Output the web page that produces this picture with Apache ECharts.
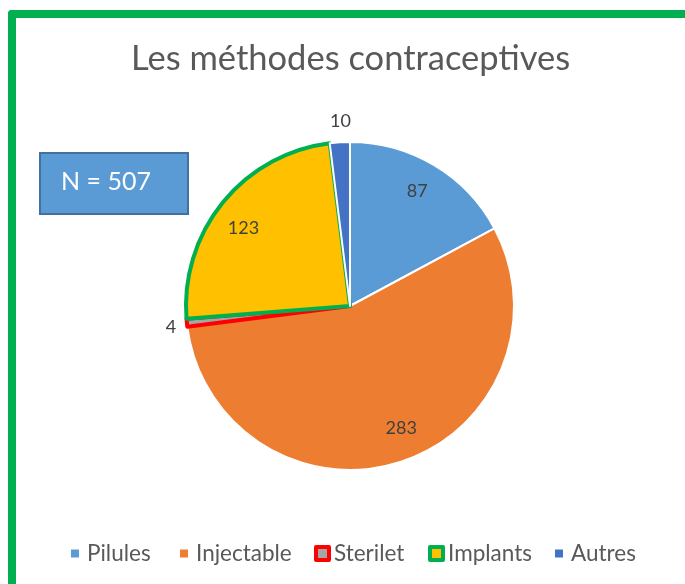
<!DOCTYPE html>
<html>
<head>
<meta charset="utf-8">
<script src="https://cdn.jsdelivr.net/npm/echarts@6/dist/echarts.min.js"></script>
<style>
html,body{margin:0;padding:0;background:#fff;overflow:hidden;width:685px;height:584px;}
#wrap{position:relative;width:685px;height:584px;overflow:hidden;}
#chart{position:absolute;left:0;top:0;width:685px;height:584px;}
#barL{position:absolute;left:8px;top:10px;width:7.5px;height:600px;background:#00B050;border-top-left-radius:4px;pointer-events:none;}
#barT{position:absolute;left:8px;top:10px;width:677px;height:7.5px;background:#00B050;border-top-left-radius:4px;pointer-events:none;}
</style>
</head>
<body>
<div id="wrap"><div id="chart"></div><div id="barL"></div><div id="barT"></div></div>
<script>
const categories = ['Pilules', 'Injectable', 'Sterilet', 'Implants', 'Autres'];
const values = [87, 283, 4, 123, 10];
const colors = ['#5B9BD5', '#ED7D31', '#A5A5A5', '#FFC000', '#4472C4'];
const borderColors = ['#FFFFFF', '#FFFFFF', '#FF0000', '#00B050', '#FFFFFF'];
const borderWidths = [2, 2, 4, 4, 2];
const outsideLabel = [false, false, true, false, true];
const titleText = 'Les méthodes contraceptives';
const totalText = 'N = 507';

// styling / layout helpers (not data)
const labelNudges = [[-2, 1], [10, -6], [6, 2], [-2, 8], [2, 1]];
const legendLefts = [66, 175, 307, 421, 550];

const chart = echarts.init(document.getElementById('chart'));
const FONT = 'Lato';
const center = [350, 306];

const mainData = categories.map((c, i) => ({
  name: c, value: values[i],
  itemStyle: { color: colors[i], borderColor: borderColors[i], borderWidth: borderWidths[i] }
}));
const innerLabelData = categories.map((c, i) => ({
  name: c, value: values[i],
  label: { show: !outsideLabel[i], offset: labelNudges[i] }
}));
const outerLabelData = categories.map((c, i) => ({
  name: c, value: values[i],
  label: { show: outsideLabel[i], offset: labelNudges[i] }
}));

const legends = categories.map((c, i) => {
  const bordered = borderWidths[i] > 2;
  const sz = bordered ? 13 : 8;
  return {
    data: [{
      name: c, icon: 'rect',
      itemStyle: {
        color: colors[i],
        borderColor: bordered ? borderColors[i] : colors[i],
        borderWidth: bordered ? 4 : 0
      }
    }],
    left: legendLefts[i] + (bordered ? 2 : 0), top: 537,
    itemWidth: sz, itemHeight: sz, selectedMode: false,
    textStyle: { fontFamily: FONT, fontSize: 22.5, color: '#595959', padding: [0, 0, 0, bordered ? 0 : 3] }
  };
});

const labelStyle = { position: 'inside', formatter: '{c}', color: '#404040', fontSize: 18, fontFamily: FONT };

chart.setOption({
  backgroundColor: '#ffffff',
  animation: false,
  title: {
    text: titleText, left: 126, top: 36,
    textStyle: { fontFamily: FONT, fontSize: 34.5, fontWeight: 'normal', color: '#595959' }
  },
  legend: legends,
  graphic: [
    { type: 'rect', shape: { x: 40, y: 153, width: 148, height: 61 },
      style: { fill: '#5B9BD5', stroke: '#41719C', lineWidth: 2 } },
    { type: 'text', x: 61, y: 182,
      style: { text: totalText, fill: '#FFFFFF', font: '25px ' + FONT, textVerticalAlign: 'middle' } }
  ],
  series: [
    { type: 'pie', center: center, radius: 164, startAngle: 90, clockwise: true,
      data: mainData, label: { show: false }, labelLine: { show: false }, silent: true },
    { type: 'pie', center: center, radius: [100, 164], startAngle: 90, clockwise: true,
      data: innerLabelData, itemStyle: { color: 'rgba(0,0,0,0)', borderWidth: 0 },
      label: labelStyle, labelLine: { show: false }, silent: true },
    { type: 'pie', center: center, radius: [174, 192], startAngle: 90, clockwise: true,
      data: outerLabelData, itemStyle: { color: 'rgba(0,0,0,0)', borderWidth: 0 },
      label: labelStyle, labelLine: { show: false }, silent: true }
  ]
});
</script>
</body>
</html>
